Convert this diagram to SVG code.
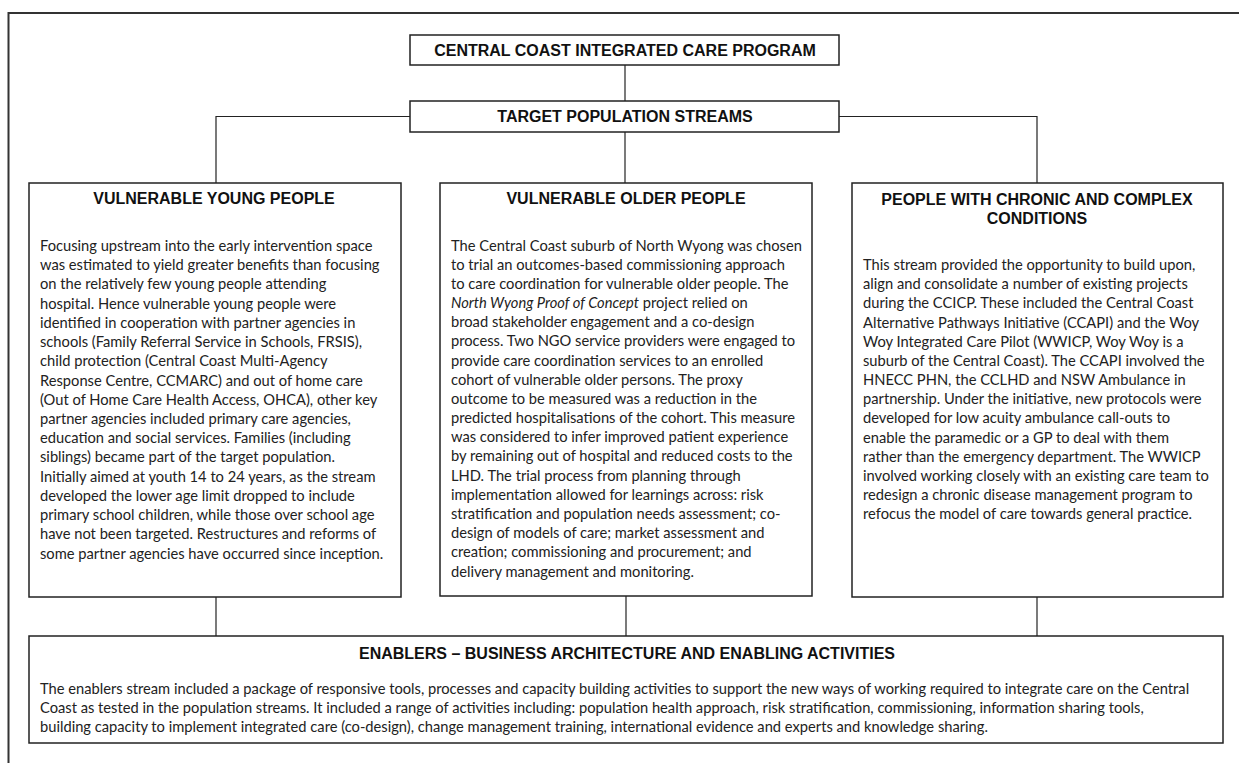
<svg xmlns="http://www.w3.org/2000/svg" width="1239" height="763" viewBox="0 0 1239 763">
<style>
.box{fill:#fff;stroke:#222;stroke-width:1.5}
.conn{stroke:#222;stroke-width:1.2;fill:none}
.hd{font-family:"Liberation Sans",Arial,sans-serif;font-weight:bold;font-size:16px;fill:#111;text-anchor:middle}
.bd{font-family:Lato,"Open Sans",sans-serif;font-size:14.7px;fill:#222}
</style>
<rect width="1239" height="763" fill="#fff"/>
<g id="frame">
<path d="M8.5 763 V13 H1239" fill="none" stroke="#333" stroke-width="2"/>
</g>
<g id="connectors">
<path class="conn" d="M625 65 V101"/>
<path class="conn" d="M410 116.5 H216 V183"/>
<path class="conn" d="M839 116.5 H1037 V183"/>
<path class="conn" d="M625 132 V183"/>
<path class="conn" d="M216 597 V636"/>
<path class="conn" d="M626 596 V636"/>
<path class="conn" d="M1037 597 V636"/>
</g>
<g id="program">
<rect class="box" x="410" y="35" width="429" height="30"/>
<text class="hd" x="625" y="56">CENTRAL COAST INTEGRATED CARE PROGRAM</text>
</g>
<g id="streams">
<rect class="box" x="410" y="101" width="429" height="31"/>
<text class="hd" x="625" y="122">TARGET POPULATION STREAMS</text>
</g>
<g id="young">
<rect class="box" x="29" y="183" width="372" height="414"/>
<text class="hd" x="214" y="204">VULNERABLE YOUNG PEOPLE</text>
<text class="bd" x="40" y="251">
<tspan x="40" dy="0">Focusing upstream into the early intervention space</tspan>
<tspan x="40" dy="19.22">was estimated to yield greater benefits than focusing</tspan>
<tspan x="40" dy="19.22">on the relatively few young people attending</tspan>
<tspan x="40" dy="19.22">hospital. Hence vulnerable young people were</tspan>
<tspan x="40" dy="19.22">identified in cooperation with partner agencies in</tspan>
<tspan x="40" dy="19.22">schools (Family Referral Service in Schools, FRSIS),</tspan>
<tspan x="40" dy="19.22">child protection (Central Coast Multi-Agency</tspan>
<tspan x="40" dy="19.22">Response Centre, CCMARC) and out of home care</tspan>
<tspan x="40" dy="19.22">(Out of Home Care Health Access, OHCA), other key</tspan>
<tspan x="40" dy="19.22">partner agencies included primary care agencies,</tspan>
<tspan x="40" dy="19.22">education and social services. Families (including</tspan>
<tspan x="40" dy="19.22">siblings) became part of the target population.</tspan>
<tspan x="40" dy="19.22">Initially aimed at youth 14 to 24 years, as the stream</tspan>
<tspan x="40" dy="19.22">developed the lower age limit dropped to include</tspan>
<tspan x="40" dy="19.22">primary school children, while those over school age</tspan>
<tspan x="40" dy="19.22">have not been targeted. Restructures and reforms of</tspan>
<tspan x="40" dy="19.22">some partner agencies have occurred since inception.</tspan>
</text>
</g>
<g id="older">
<rect class="box" x="440" y="183" width="372" height="413"/>
<text class="hd" x="626" y="204">VULNERABLE OLDER PEOPLE</text>
<text class="bd" x="451" y="250.5">
<tspan x="451" dy="0">The Central Coast suburb of North Wyong was chosen</tspan>
<tspan x="451" dy="19.18">to trial an outcomes-based commissioning approach</tspan>
<tspan x="451" dy="19.18">to care coordination for vulnerable older people. The</tspan>
<tspan x="451" dy="19.18"><tspan font-style="italic">North Wyong Proof of Concept</tspan> project relied on</tspan>
<tspan x="451" dy="19.18">broad stakeholder engagement and a co-design</tspan>
<tspan x="451" dy="19.18">process. Two NGO service providers were engaged to</tspan>
<tspan x="451" dy="19.18">provide care coordination services to an enrolled</tspan>
<tspan x="451" dy="19.18">cohort of vulnerable older persons. The proxy</tspan>
<tspan x="451" dy="19.18">outcome to be measured was a reduction in the</tspan>
<tspan x="451" dy="19.18">predicted hospitalisations of the cohort. This measure</tspan>
<tspan x="451" dy="19.18">was considered to infer improved patient experience</tspan>
<tspan x="451" dy="19.18">by remaining out of hospital and reduced costs to the</tspan>
<tspan x="451" dy="19.18">LHD. The trial process from planning through</tspan>
<tspan x="451" dy="19.18">implementation allowed for learnings across: risk</tspan>
<tspan x="451" dy="19.18">stratification and population needs assessment; co-</tspan>
<tspan x="451" dy="19.18">design of models of care; market assessment and</tspan>
<tspan x="451" dy="19.18">creation; commissioning and procurement; and</tspan>
<tspan x="451" dy="19.18">delivery management and monitoring.</tspan>
</text>
</g>
<g id="chronic">
<rect class="box" x="852" y="183" width="371" height="414"/>
<text class="hd" x="1037" y="204.5">PEOPLE WITH CHRONIC AND COMPLEX</text>
<text class="hd" x="1037" y="224">CONDITIONS</text>
<text class="bd" x="863" y="270">
<tspan x="863" dy="0">This stream provided the opportunity to build upon,</tspan>
<tspan x="863" dy="19.18">align and consolidate a number of existing projects</tspan>
<tspan x="863" dy="19.18">during the CCICP. These included the Central Coast</tspan>
<tspan x="863" dy="19.18">Alternative Pathways Initiative (CCAPI) and the Woy</tspan>
<tspan x="863" dy="19.18">Woy Integrated Care Pilot (WWICP, Woy Woy is a</tspan>
<tspan x="863" dy="19.18">suburb of the Central Coast). The CCAPI involved the</tspan>
<tspan x="863" dy="19.18">HNECC PHN, the CCLHD and NSW Ambulance in</tspan>
<tspan x="863" dy="19.18">partnership. Under the initiative, new protocols were</tspan>
<tspan x="863" dy="19.18">developed for low acuity ambulance call-outs to</tspan>
<tspan x="863" dy="19.18">enable the paramedic or a GP to deal with them</tspan>
<tspan x="863" dy="19.18">rather than the emergency department. The WWICP</tspan>
<tspan x="863" dy="19.18">involved working closely with an existing care team to</tspan>
<tspan x="863" dy="19.18">redesign a chronic disease management program to</tspan>
<tspan x="863" dy="19.18">refocus the model of care towards general practice.</tspan>
</text>
</g>
<g id="enablers">
<rect class="box" x="29" y="636" width="1194" height="107"/>
<text class="hd" x="627" y="659">ENABLERS – BUSINESS ARCHITECTURE AND ENABLING ACTIVITIES</text>
<text class="bd" x="40" y="694">
<tspan x="40" dy="0">The enablers stream included a package of responsive tools, processes and capacity building activities to support the new ways of working required to integrate care on the Central</tspan>
<tspan x="40" dy="19.2">Coast as tested in the population streams. It included a range of activities including: population health approach, risk stratification, commissioning, information sharing tools,</tspan>
<tspan x="40" dy="19.2">building capacity to implement integrated care (co-design), change management training, international evidence and experts and knowledge sharing.</tspan>
</text>
</g>
</svg>
